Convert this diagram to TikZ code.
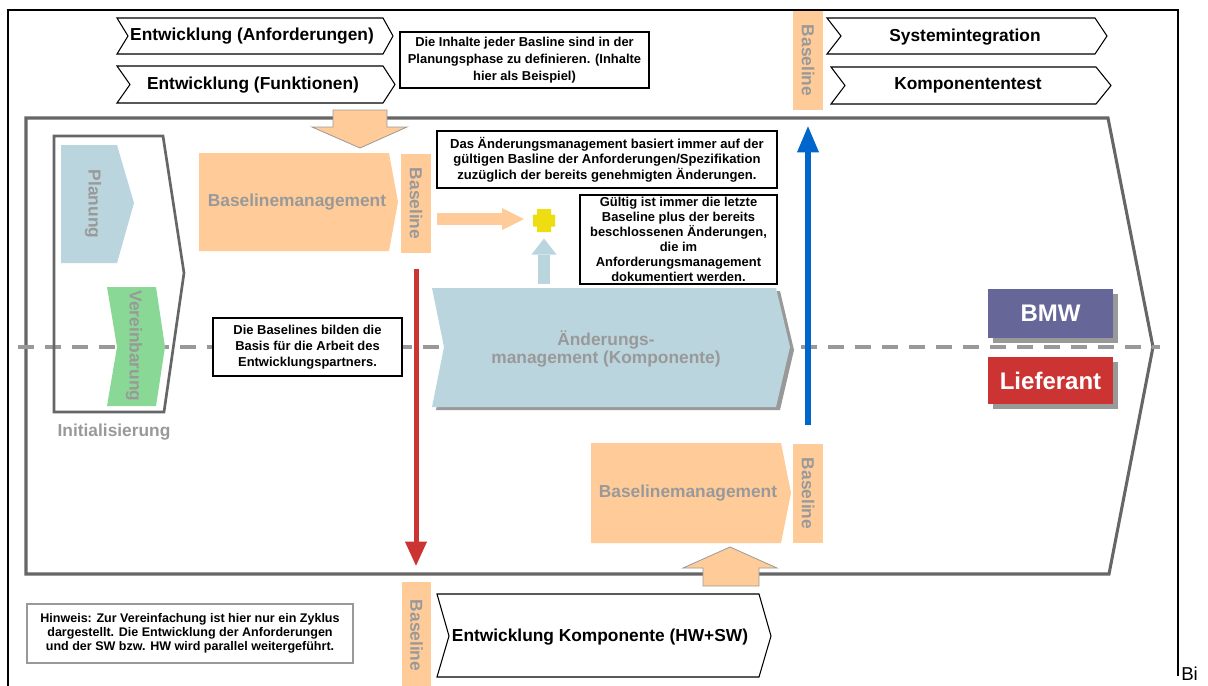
\documentclass[tikz,border=0pt]{standalone}
\usepackage{fontspec}
\setmainfont{Liberation Sans}
\usetikzlibrary{arrows.meta,shadows}

\definecolor{orangefill}{RGB}{255,204,153}
\definecolor{bluegrey}{RGB}{187,213,222}
\definecolor{greenfill}{RGB}{138,216,150}
\definecolor{labelgrey}{RGB}{153,153,153}
\definecolor{framegrey}{RGB}{102,102,102}
\definecolor{arrowred}{RGB}{204,51,51}
\definecolor{arrowblue}{RGB}{0,102,204}
\definecolor{bmwblue}{RGB}{102,102,153}
\definecolor{plusyellow}{RGB}{238,221,17}

\tikzset{
  phasebox/.style={draw=black, line width=0.8pt, fill=white, line join=miter},
  phaselabel/.style={font=\fontsize{13}{15}\selectfont\bfseries, inner sep=0pt},
  greylabel/.style={font=\fontsize{13}{14}\selectfont\bfseries, text=labelgrey, inner sep=0pt, align=center},
  notebox/.style={draw=black, line width=0.9pt, fill=white, align=center, inner sep=0pt},
  baselinebox/.style={fill=orangefill, minimum width=22.5pt, minimum height=74.25pt, inner sep=0pt,
    font=\fontsize{13}{14}\selectfont\bfseries, text=labelgrey},
  partybox/.style={minimum width=93.75pt, inner sep=0pt, text=white,
    font=\fontsize{18}{20}\selectfont\bfseries,
    drop shadow={shadow xshift=3.75pt, shadow yshift=-3.4pt, fill=labelgrey, opacity=1}},
  blockarrow/.style={fill=orangefill, draw=labelgrey, line width=0.6pt, line join=miter},
}

\begin{document}
\begin{tikzpicture}[x=0.75pt,y=-0.75pt]
\useasboundingbox (0,0) rectangle (1208,686);

% outer frame
\draw[black, line width=1.6pt] (8,692) -- (8,10) -- (1178,10) -- (1178,676);

% overall process arrow
\draw[framegrey, line width=2.3pt, line join=miter, fill=white]
  (26,118) -- (1108,118) -- (1153,347) -- (1109,574) -- (26,574) -- cycle;

% divider between BMW and supplier
\draw[labelgrey, line width=2.6pt, dash pattern=on 12pt off 8.25pt] (18,347) -- (1160,347);

% initialisation phase
\draw[framegrey, line width=2pt, line join=miter]
  (54,136) -- (163,136) -- (184,273) -- (164,412) -- (54,412) -- cycle;
\node[greylabel] (init) at (114,432) {Initialisierung};

\fill[bluegrey] (61,145) -- (117,145) -- (134,203) -- (117,263) -- (61,263) -- cycle;
\node[greylabel, rotate=-90] (planung) at (93,204) {Planung};

\fill[greenfill] (107,287) -- (156,287) -- (165,347) -- (156,406) -- (107,406) -- (117,347) -- cycle;
\node[greylabel, rotate=-90] (vereinb) at (134,346) {Vereinbarung};

% upper baseline management
\fill[orangefill] (199,153) -- (389,153) -- (398,202) -- (389,251) -- (199,251) -- cycle;
\node[greylabel] (bmgmtA) at (297,202) {Baselinemanagement};

% baseline markers
\node[baselinebox] (blTL) at (416,203.5) {\rotatebox{-90}{Baseline}};
\node[baselinebox] (blTR) at (808,60.5) {\rotatebox{-90}{Baseline}};
\node[baselinebox] (blBR) at (808,493.5) {\rotatebox{-90}{Baseline}};
\node[baselinebox, minimum width=21.75pt, minimum height=80.25pt] (blB) at (416.5,635.5) {\rotatebox{-90}{Baseline}};

% development streams
\draw[phasebox] (117,18) -- (383,18) -- (393,36) -- (383,54) -- (117,54) -- (128,36) -- cycle;
\node[phaselabel] (anf) at (252,36) {Entwicklung (Anforderungen)};
\draw[phasebox] (117,66) -- (383,66) -- (395,84.5) -- (383,103) -- (117,103) -- (130,84.5) -- cycle;
\node[phaselabel] (funk) at (253,85) {Entwicklung (Funktionen)};
\draw[phasebox] (827,18) -- (1095,18) -- (1107,36) -- (1095,54) -- (827,54) -- (841,36) -- cycle;
\node[phaselabel] (sysint) at (965,37) {Systemintegration};
\draw[phasebox] (831,67) -- (1096,67) -- (1111,85.5) -- (1096,104) -- (831,104) -- (845,85.5) -- cycle;
\node[phaselabel] (ktest) at (968,85.5) {Komponententest};
\draw[phasebox] (437,594) -- (759,594) -- (771,636) -- (759,677) -- (437,677) -- (449,636) -- cycle;
\node[phaselabel] (ekomp) at (600,637) {Entwicklung Komponente (HW+SW)};

% block arrows into and out of the process
\draw[blockarrow] (333,110) -- (387,110) -- (387,127) -- (407,127) -- (360,148) -- (312,127) -- (333,127) -- cycle;
\draw[blockarrow] (703,586) -- (759,586) -- (759,568) -- (777,568) -- (730,547) -- (683,568) -- (703,568) -- cycle;

% change management
\fill[labelgrey] (436,291) -- (780,291) -- (794,350) -- (780,410) -- (436,410) -- (448,350) -- cycle;
\fill[bluegrey] (432,288) -- (776,288) -- (790,347) -- (776,407) -- (432,407) -- (444,347) -- cycle;
\node[greylabel, font=\fontsize{13}{13.8}\selectfont\bfseries] (aender) at (606,349) {Änderungs-\\management (Komponente)};
\coordinate (aenderTop) at (544,288);

% lower baseline management
\fill[orangefill] (591,443) -- (781,443) -- (791,493) -- (781,543) -- (591,543) -- cycle;
\node[greylabel] (bmgmtB) at (688,493) {Baselinemanagement};

% combination of baseline and approved changes
\coordinate (plus) at (544,220.5);
\fill[plusyellow, shift={(plus)}] (-7,-11.5) -- (7,-11.5) -- (7,-6) -- (11,-6) -- (11,6) -- (7,6)
  -- (7,11.5) -- (-7,11.5) -- (-7,6) -- (-11,6) -- (-11,-6) -- (-7,-6) -- cycle;
\coordinate (plusIn) at (437,219);
\coordinate (plusTip) at (524,219);
\draw[orangefill, line width=9pt, -{Triangle[length=16.5pt,width=16.5pt,line width=0pt]}]
  (plusIn) -- (plusTip);
\draw[bluegrey, line width=9pt, -{Triangle[length=12pt,width=18.75pt,line width=0pt]}, shorten <=3pt, shorten >=13.5pt]
  (aenderTop) -- (plus);

% hand-over arrows
\draw[arrowred, line width=3.75pt, -{Triangle[length=18pt,width=16.5pt,line width=0pt]}, shorten <=12pt, shorten >=12pt]
  (blTL.south) -- (blTL.south |- blB.north);
\draw[arrowblue, line width=4.5pt, -{Triangle[length=19.5pt,width=16.5pt,line width=0pt]}, shorten <=14.25pt, shorten >=12pt]
  (blBR.north) -- (blTR.south);

% notes
\node[notebox, minimum width=186.75pt, minimum height=42pt, font=\fontsize{9.7}{13}\selectfont\bfseries] (noteA) at (524.5,60)
  {Die Inhalte jeder Basline sind in der\\Planungsphase zu definieren. (Inhalte\\hier als Beispiel)};
\node[notebox, minimum width=255pt, minimum height=42.75pt, font=\fontsize{9.8}{11.5}\selectfont\bfseries] (noteB) at (607,159.5)
  {Das Änderungsmanagement basiert immer auf der\\gültigen Basline der Anforderungen/Spezifikation\\zuzüglich der bereits genehmigten Änderungen.};
\node[notebox, minimum width=147.75pt, minimum height=66.75pt, font=\fontsize{9.7}{11.3}\selectfont\bfseries] (noteC) at (678.5,239.5)
  {Gültig ist immer die letzte\\Baseline plus der bereits\\beschlossenen Änderungen,\\die im\\Anforderungsmanagement\\dokumentiert werden.};
\node[notebox, minimum width=141.75pt, minimum height=43.5pt, font=\fontsize{9.7}{11.9}\selectfont\bfseries] (noteD) at (307.5,347)
  {Die Baselines bilden die\\Basis für die Arbeit des\\Entwicklungspartners.};
\node[notebox, draw=labelgrey, line width=0.8pt, minimum width=244.5pt, minimum height=44.25pt, font=\fontsize{9.4}{10.6}\selectfont\bfseries] (noteE) at (190,633.5)
  {Hinweis: Zur Vereinfachung ist hier nur ein Zyklus\\dargestellt. Die Entwicklung der Anforderungen\\und der SW bzw. HW wird parallel weitergeführt.};

% parties
\node[partybox, fill=bmwblue, minimum height=36.75pt] (bmw) at (1050.5,313.5) {BMW};
\node[partybox, fill=arrowred, minimum height=35.25pt] (lief) at (1050.5,380.5) {Lieferant};

\node[anchor=base west, inner sep=0pt, font=\fontsize{14}{16}\selectfont] (bi) at (1181,680) {Bi};
\end{tikzpicture}
\end{document}
